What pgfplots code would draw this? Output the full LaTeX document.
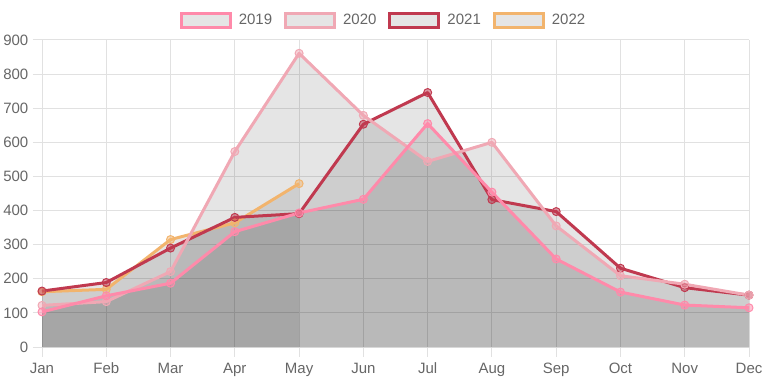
\documentclass[border=0pt]{standalone}
\usepackage{pgfplots}
\pgfplotsset{compat=1.18}
\usepackage{fontspec}
\setmainfont{Liberation Sans}
\definecolor{cA}{RGB}{255,138,170}
\definecolor{cB}{RGB}{240,168,180}
\definecolor{cC}{RGB}{192,57,79}
\definecolor{cD}{RGB}{242,180,109}
\definecolor{gridc}{RGB}{225,225,225}
\definecolor{labelc}{RGB}{102,102,102}
\pgfplotstableread{
x y19 y20 y21
0 103 122 164
1 150 133 189
2 187 221 290
3 338 573 380
4 393 861 391
5 433 679 653
6 655 544 746
7 454 600 432
8 258 355 397
9 161 209 231
10 123 184 174
11 115 152 152
}\data
\pgfplotstableread{
x y22
0 162
1 169
2 315
3 364
4 479
}\datab
\begin{document}
\begin{tikzpicture}[x=1pt,y=1pt]
\useasboundingbox (0,0) rectangle (767,383);
\begin{axis}[
  at={(42pt,36pt)}, anchor=south west, scale only axis,
  width=707pt, height=307pt,
  xmin=0, xmax=11, ymin=0, ymax=900,
  xtick={0,...,11},
  xticklabels={Jan,Feb,Mar,Apr,May,Jun,Jul,Aug,Sep,Oct,Nov,Dec},
  ytick={0,100,...,900},
  grid=major, grid style={draw=gridc, line width=1pt},
  axis line style={draw=gridc, line width=1pt},
  tick style={draw=gridc, line width=1pt},
  major tick length=9.5pt, tick align=outside, tick pos=left,
  axis x line*=bottom, axis y line*=left,
  ticklabel style={font=\fontsize{15}{18}\selectfont, text=labelc, inner sep=0pt},
  /pgf/number format/assume math mode=true,
  xticklabel style={text height=11pt, text depth=0pt, anchor=north, yshift=-6pt},
  yticklabel style={anchor=east, xshift=-4pt},
  clip=false,
  legend columns=4,
  legend style={at={(0.4816,1.0635)}, anchor=center, draw=none, fill=none,
    font=\fontsize{15}{18}\selectfont, text=labelc,
    nodes={inner sep=0pt},
    /tikz/every odd column/.append style={column sep=7pt},
    /tikz/every even column/.append style={column sep=12pt},
    inner sep=0pt},
]
\addlegendimage{legend image code/.code={\draw[line width=3pt, draw=cA, fill=black!10] (0pt,-7pt) rectangle (49pt,7pt);}}
\addlegendentry{2019}
\addlegendimage{legend image code/.code={\draw[line width=3pt, draw=cB, fill=black!10] (0pt,-7pt) rectangle (49pt,7pt);}}
\addlegendentry{2020}
\addlegendimage{legend image code/.code={\draw[line width=3pt, draw=cC, fill=black!10] (0pt,-7pt) rectangle (49pt,7pt);}}
\addlegendentry{2021}
\addlegendimage{legend image code/.code={\draw[line width=3pt, draw=cD, fill=black!10] (0pt,-7pt) rectangle (49pt,7pt);}}
\addlegendentry{2022}
% fills
\addplot[forget plot, draw=none, fill=black, fill opacity=0.1] table[x=x,y=y19]{\data} \closedcycle;
\addplot[forget plot, draw=none, fill=black, fill opacity=0.1] table[x=x,y=y20]{\data} \closedcycle;
\addplot[forget plot, draw=none, fill=black, fill opacity=0.1] table[x=x,y=y21]{\data} \closedcycle;
\addplot[forget plot, draw=none, fill=black, fill opacity=0.1] table[x=x,y=y22]{\datab} \closedcycle;
% lines
\addplot[forget plot, cD, line width=3pt, line join=round, mark=*, mark size=4pt, mark options={line width=1pt, draw=cD, fill=cD, fill opacity=0.5}] table[x=x,y=y22]{\datab};
\addplot[forget plot, cC, line width=3pt, line join=round, mark=*, mark size=4pt, mark options={line width=1pt, draw=cC, fill=cC, fill opacity=0.5}] table[x=x,y=y21]{\data};
\addplot[forget plot, cB, line width=3pt, line join=round, mark=*, mark size=4pt, mark options={line width=1pt, draw=cB, fill=cB, fill opacity=0.5}] table[x=x,y=y20]{\data};
\addplot[forget plot, cA, line width=3pt, line join=round, mark=*, mark size=4pt, mark options={line width=1pt, draw=cA, fill=cA, fill opacity=0.5}] table[x=x,y=y19]{\data};
\end{axis}
\end{tikzpicture}
\end{document}
